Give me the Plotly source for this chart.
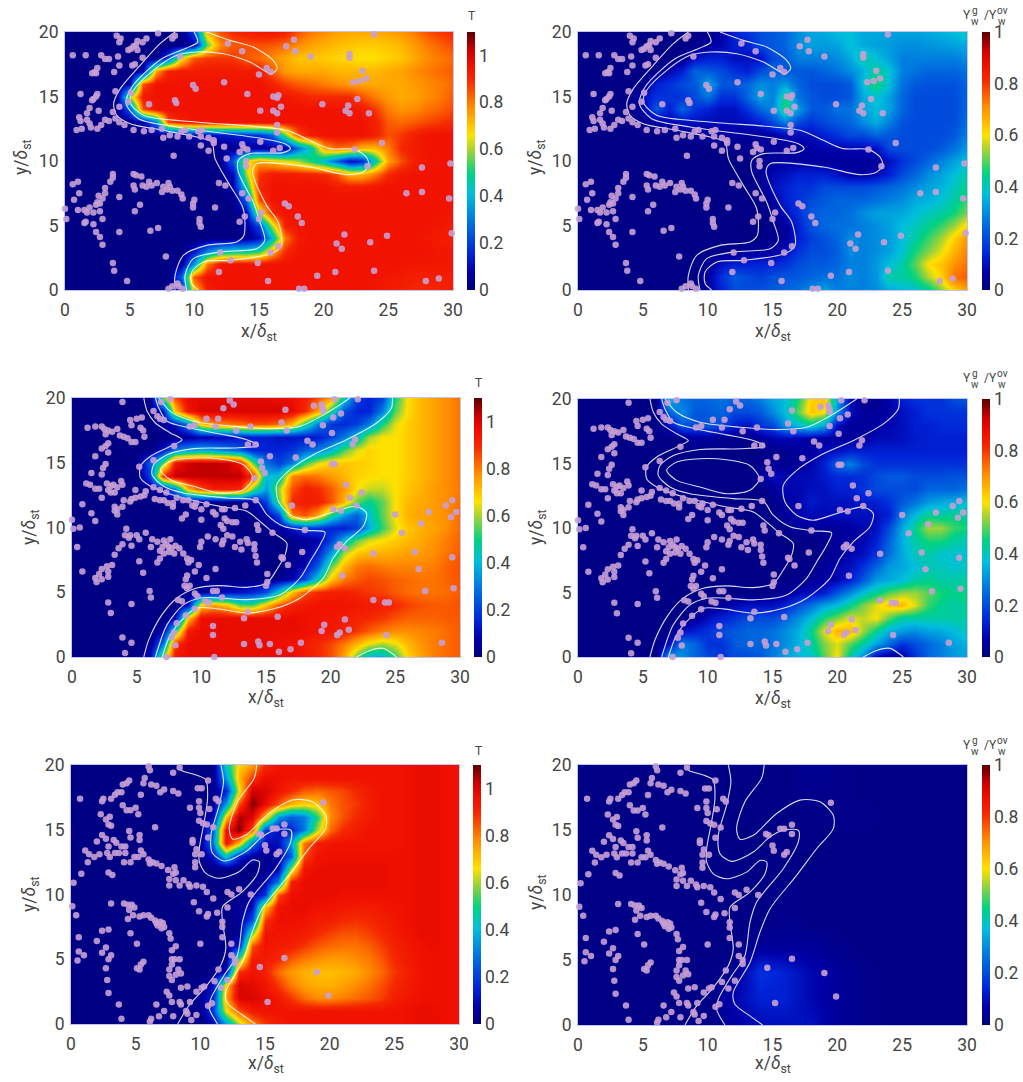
import plotly.graph_objects as go

W, H = 1023, 1082
FONT = "Roboto"
INK = "#444444"

grid_x_fine = list(range(0, 31))
grid_y_fine = list(range(0, 21))
grid_x_coarse = list(range(0, 31, 2))
grid_y_coarse = list(range(0, 21, 2))

# Temperature, in hundredths; rows run from y=0 to y=20
T_row1 = [
[2,2,2,2,2,2,2,2,2,8,70,92,95,95,95,95,95,95,95,95,95,95,95,95,94,93,92,90,90,91,92],
[2,2,2,2,2,2,2,2,2,25,85,95,95,95,95,95,95,95,95,95,95,95,95,95,95,94,93,92,92,92,93],
[2,2,2,2,2,2,2,2,2,5,35,80,94,95,95,95,95,95,95,95,95,95,95,95,95,95,95,94,94,94,94],
[2,2,2,2,2,2,2,2,2,2,12,30,42,45,45,50,72,90,95,95,95,95,95,95,95,95,95,95,95,94,94],
[2,2,2,2,2,2,2,2,2,2,2,2,2,2,4,10,40,80,93,95,95,95,95,95,95,95,95,95,94,93,92],
[2,2,2,2,2,2,2,2,2,2,2,2,2,2,5,20,60,92,95,95,95,95,95,95,95,95,95,95,95,94,93],
[2,2,2,2,2,2,2,2,2,2,2,2,2,2,8,60,90,95,95,95,95,95,95,95,95,95,95,95,95,95,94],
[2,2,2,2,2,2,2,2,2,2,2,2,2,3,25,85,95,95,95,95,95,95,95,95,95,95,95,95,95,95,95],
[2,2,2,2,2,2,2,2,2,2,2,2,2,8,45,90,95,95,95,95,95,93,93,93,94,95,95,95,95,95,95],
[2,2,2,2,2,2,2,2,2,2,2,2,3,10,60,88,93,93,92,92,90,85,72,72,80,90,94,95,95,95,95],
[2,2,2,2,2,2,2,2,2,2,2,2,4,25,65,75,70,65,60,50,40,25,10,15,45,75,85,92,94,95,95],
[2,2,2,2,2,2,2,2,2,2,2,2,3,4,5,6,6,6,28,45,75,82,80,72,72,80,90,93,95,95,95],
[2,2,2,2,2,2,2,2,3,6,8,10,12,14,16,18,25,55,85,93,95,95,95,95,92,85,88,92,95,95,95],
[2,2,2,2,2,3,8,30,85,92,95,95,95,95,95,95,95,95,95,95,95,95,95,95,92,84,82,84,86,88,90],
[2,2,2,2,3,25,85,95,95,95,95,95,95,95,95,95,95,95,95,95,95,95,95,93,88,80,77,78,81,83,86],
[2,2,2,2,4,60,94,95,95,95,95,95,95,95,95,95,95,94,92,90,90,90,90,85,80,76,74,75,78,80,84],
[2,2,2,2,2,10,85,95,95,95,95,95,95,95,95,95,92,87,84,82,80,78,76,75,74,74,74,76,78,80,82],
[2,2,2,2,2,2,8,75,92,93,93,93,93,93,93,93,84,76,74,74,74,72,72,72,72,74,75,78,80,82,84],
[2,2,2,2,2,2,2,3,20,65,85,88,88,88,84,82,78,74,70,70,69,68,67,66,66,68,70,74,78,80,82],
[2,2,2,2,2,2,2,2,2,3,8,55,78,84,85,85,84,82,78,75,73,71,70,69,69,70,72,76,80,83,86],
[2,2,2,2,2,2,2,2,2,2,20,72,85,90,92,94,94,92,85,80,78,75,74,74,74,75,77,80,85,88,90],
]
T_row2 = [
[2,2,2,2,2,2,10,60,93,97,97,97,97,97,97,97,97,97,93,90,85,75,55,40,38,52,68,75,80,82,84],
[2,2,2,2,2,2,3,30,90,97,97,97,97,97,97,97,96,95,93,90,86,80,72,64,60,64,72,77,80,82,84],
[2,2,2,2,2,2,2,8,50,94,97,97,97,97,97,97,97,97,96,95,94,92,88,84,80,78,78,79,80,82,84],
[2,2,2,2,2,2,2,2,8,70,96,97,97,97,97,97,97,97,96,95,94,93,91,90,88,85,83,83,83,84,84],
[2,2,2,2,2,2,2,2,2,10,70,75,70,55,55,70,85,92,94,95,95,95,94,93,92,90,87,85,84,84,85],
[2,2,2,2,2,2,2,2,2,3,6,8,10,12,15,22,45,70,85,90,92,92,90,88,87,84,82,81,81,82,84],
[2,2,2,2,2,2,2,2,2,2,2,2,2,2,2,2,4,8,22,45,70,80,84,86,85,83,82,81,81,83,85],
[2,2,2,2,2,2,2,2,2,2,2,2,2,2,2,2,2,4,10,25,55,72,80,82,80,79,79,79,80,83,85],
[2,2,2,2,2,2,2,2,2,2,2,2,2,2,2,2,2,3,6,15,35,60,70,72,73,74,75,76,78,81,84],
[2,2,2,2,2,2,2,2,2,2,2,2,2,2,2,2,2,3,5,8,20,40,55,63,66,69,72,74,77,80,83],
[2,2,2,2,2,2,2,2,2,2,2,2,2,2,2,3,6,12,20,18,15,14,20,38,52,64,70,73,75,78,82],
[2,2,2,2,2,2,2,2,2,2,2,2,2,2,3,8,22,80,85,75,50,35,25,42,55,66,73,75,76,78,82],
[2,2,2,2,2,2,2,2,2,2,2,2,2,2,5,20,55,90,93,92,85,72,55,48,55,66,72,74,76,78,82],
[2,2,2,2,2,2,4,8,30,72,85,92,92,90,55,35,60,85,92,90,84,76,66,62,62,66,70,73,76,78,80],
[2,2,2,2,2,2,20,90,103,103,103,103,103,103,90,40,42,78,82,80,76,72,68,67,66,66,69,72,75,78,81],
[2,2,2,2,2,3,25,55,95,102,103,103,102,95,55,28,20,30,52,64,70,70,69,68,66,66,69,72,75,78,81],
[2,2,2,2,2,2,2,12,30,35,38,35,30,25,15,15,15,18,25,30,40,54,64,68,66,66,69,72,75,78,81],
[2,2,2,2,2,2,2,2,3,5,8,8,10,12,14,14,12,12,12,14,20,30,42,60,66,66,69,72,75,78,81],
[2,2,2,2,2,2,2,6,12,30,70,78,80,82,85,85,82,72,50,30,18,16,20,30,50,64,69,72,75,78,81],
[2,2,2,2,2,2,2,12,70,95,100,100,100,100,100,100,100,98,90,75,50,22,15,15,30,55,67,72,75,78,81],
[2,2,2,2,2,2,2,55,85,97,98,98,98,98,98,98,97,96,92,85,75,45,20,15,20,50,67,72,75,78,81],
]
T_row3 = [
[2,2,2,2,2,2,2,2,2,2,2,8,35,60,78,88,93,95,95,95,95,95,95,95,95,95,96,97,97,96,95],
[2,2,2,2,2,2,2,2,2,2,3,20,65,85,93,95,95,95,95,95,95,95,95,95,95,95,96,97,97,96,95],
[2,2,2,2,2,2,2,2,2,2,5,15,75,100,100,97,94,88,82,78,78,80,82,84,87,92,94,96,96,96,95],
[2,2,2,2,2,2,2,2,2,2,3,10,70,100,98,95,88,80,75,73,73,75,78,81,85,90,93,95,96,96,95],
[2,2,2,2,2,2,2,2,2,2,2,3,10,90,95,92,82,76,73,71,71,72,74,78,82,88,92,95,96,96,95],
[2,2,2,2,2,2,2,2,2,2,2,2,3,55,93,93,90,84,80,78,76,76,78,80,84,90,93,95,96,96,95],
[2,2,2,2,2,2,2,2,2,2,2,2,3,15,85,95,93,92,88,84,82,81,81,83,87,91,94,96,97,96,95],
[2,2,2,2,2,2,2,2,2,2,2,2,2,4,55,95,95,94,93,90,87,85,85,87,90,93,95,97,97,96,95],
[2,2,2,2,2,2,2,2,2,2,2,2,2,5,22,88,96,96,95,93,92,90,89,90,92,94,96,97,97,96,95],
[2,2,2,2,2,2,2,2,2,2,2,2,3,5,10,70,95,97,97,96,95,94,93,93,94,95,96,97,97,96,95],
[2,2,2,2,2,2,2,2,2,2,2,2,2,3,6,18,85,96,97,97,97,96,96,96,96,96,96,97,97,96,95],
[2,2,2,2,2,2,2,2,2,2,2,2,2,2,3,8,30,92,97,97,97,97,97,97,97,96,96,97,97,96,95],
[2,2,2,2,2,2,2,2,2,2,2,2,2,2,2,4,8,60,95,97,97,97,97,97,97,96,96,97,97,96,95],
[2,2,2,2,2,2,2,2,2,2,3,12,45,15,6,4,6,25,85,95,96,96,96,96,96,96,96,97,97,96,95],
[2,2,2,2,2,2,2,2,2,2,4,30,95,72,30,10,10,35,80,92,95,95,95,95,95,95,96,97,97,96,95],
[2,2,2,2,2,2,2,2,2,2,3,25,95,108,85,20,12,15,30,60,82,90,93,95,95,95,96,97,97,96,95],
[2,2,2,2,2,2,2,2,2,2,3,10,70,105,100,72,35,25,30,50,78,85,90,93,95,95,96,97,97,96,95],
[2,2,2,2,2,2,2,2,2,2,2,4,35,85,108,98,85,72,68,70,80,85,88,92,95,95,96,97,97,96,95],
[2,2,2,2,2,2,2,2,2,2,2,4,15,65,102,100,95,90,84,82,84,86,90,93,95,95,96,97,97,96,95],
[2,2,2,2,2,2,2,2,2,2,2,3,35,72,88,97,96,95,95,95,95,95,95,95,95,95,96,97,97,96,95],
[2,2,2,2,2,2,2,2,2,2,2,2,45,68,75,90,95,95,95,95,95,95,95,95,95,95,96,97,97,96,95],
]

# Species ratio, in hundredths
Y_row1 = [
[2,2,2,2,2,2,2,2,2,2,6,13,20,20,21,22,24,26,30,33,28,28,28,30,34,36,38,42,52,62,68],
[2,2,2,2,2,2,2,2,2,2,6,16,22,20,18,21,22,22,24,26,26,30,28,31,42,42,46,55,62,74,76],
[2,2,2,2,2,2,2,2,2,2,5,10,13,13,14,14,16,20,22,22,24,28,28,32,37,42,50,60,64,70,74],
[2,2,2,2,2,2,2,2,2,2,2,2,3,5,5,6,10,16,20,20,23,30,28,30,33,38,46,52,58,66,72],
[2,2,2,2,2,2,2,2,2,2,2,2,2,2,2,3,5,13,18,21,24,30,28,30,32,37,42,48,54,62,70],
[2,2,2,2,2,2,2,2,2,2,2,2,2,2,2,3,5,13,21,24,26,26,28,30,33,37,40,44,48,54,62],
[2,2,2,2,2,2,2,2,2,2,2,2,2,2,2,3,10,16,22,24,24,26,30,33,33,34,37,40,42,46,52],
[2,2,2,2,2,2,2,2,2,2,2,2,2,2,2,6,13,16,20,22,24,24,24,26,28,30,34,35,38,42,48],
[2,2,2,2,2,2,2,2,2,2,2,2,2,2,3,10,13,16,16,20,20,20,20,22,24,26,30,33,35,40,44],
[2,2,2,2,2,2,2,2,2,2,2,2,2,2,5,8,10,13,13,13,10,6,6,8,13,20,24,30,33,37,42],
[2,2,2,2,2,2,2,2,2,2,2,2,2,2,3,5,6,6,6,5,5,5,5,6,10,16,20,24,28,33,37],
[2,2,2,2,2,2,2,2,2,2,2,2,3,3,5,5,5,5,6,8,8,8,9,10,20,20,20,20,22,26,32],
[2,2,2,2,2,2,2,2,3,5,6,6,6,5,5,6,9,9,10,13,16,20,20,24,22,20,20,20,20,22,28],
[2,2,2,2,2,3,6,8,10,10,9,9,9,10,13,20,28,20,16,20,22,24,30,35,28,21,20,20,20,20,26],
[2,2,2,2,2,6,22,13,24,16,13,10,10,16,24,30,46,32,22,22,26,26,33,37,33,24,20,20,20,20,24],
[2,2,2,2,3,10,16,16,16,20,26,16,16,24,33,28,46,26,22,20,20,22,34,38,33,24,20,20,20,20,24],
[2,2,2,2,2,3,13,16,20,22,34,22,22,24,30,28,32,24,20,20,20,22,38,46,37,26,22,21,21,21,24],
[2,2,2,2,2,2,3,8,13,24,22,20,16,13,20,24,22,22,22,24,26,30,35,44,38,28,26,24,24,24,26],
[2,2,2,2,2,2,2,2,3,10,13,13,10,10,10,20,22,28,28,28,30,34,42,37,33,28,28,28,28,28,30],
[2,2,2,2,2,2,2,2,2,3,6,8,13,13,20,22,24,30,33,32,33,38,34,33,32,30,30,31,32,33,34],
[2,2,2,2,2,2,2,2,2,2,3,6,13,16,20,22,24,30,33,34,37,37,34,34,33,33,33,34,35,37,40],
]
Y_row2 = [
[2,2,2,2,2,2,2,34,30,24,20,16,20,20,22,28,33,37,38,50,60,42,30,8,3,5,16,24,28,32,33],
[2,2,2,2,2,2,2,10,28,24,16,16,22,24,24,26,30,35,42,52,58,50,42,33,24,16,20,24,28,33,35],
[2,2,2,2,2,2,2,2,10,13,16,20,22,24,24,26,30,35,44,58,66,66,54,44,35,32,30,33,34,37,40],
[2,2,2,2,2,2,2,2,2,5,10,13,16,20,20,20,24,30,37,46,52,58,56,60,50,42,42,42,42,42,42],
[2,2,2,2,2,2,2,2,2,2,3,5,8,10,10,10,13,20,26,33,37,44,52,58,64,66,58,48,44,42,44],
[2,2,2,2,2,2,2,2,2,2,2,2,2,2,2,3,5,8,10,13,22,30,38,44,50,54,54,50,46,44,46],
[2,2,2,2,2,2,2,2,2,2,2,2,2,2,2,2,2,3,5,6,8,13,22,32,34,37,42,44,42,42,42],
[2,2,2,2,2,2,2,2,2,2,2,2,2,2,2,2,2,2,3,5,8,10,16,24,32,34,37,40,40,38,40],
[2,2,2,2,2,2,2,2,2,2,2,2,2,2,2,2,2,2,2,3,5,8,10,16,26,34,40,42,38,38,38],
[2,2,2,2,2,2,2,2,2,2,2,2,2,2,2,2,2,2,2,3,5,6,8,13,24,35,42,46,46,42,40],
[2,2,2,2,2,2,2,2,2,2,2,2,2,2,2,2,3,5,5,5,5,6,8,10,20,34,44,54,54,48,46],
[2,2,2,2,2,2,2,2,2,2,2,2,2,2,2,3,5,8,9,8,10,10,10,10,13,28,37,44,42,44,42],
[2,2,2,2,2,2,2,2,2,2,2,2,2,2,2,3,6,8,12,10,10,10,12,13,16,22,26,32,34,35,37],
[2,2,2,2,2,2,2,2,2,2,2,2,2,2,2,5,8,8,10,10,13,13,16,20,20,20,20,24,24,24,26],
[2,2,2,2,2,2,2,2,2,2,2,2,2,2,5,10,8,9,9,12,15,15,16,20,22,22,20,20,20,21,21],
[2,2,2,2,2,2,2,2,2,2,2,2,2,2,3,5,3,5,8,13,24,28,20,16,16,16,16,16,16,16,16],
[2,2,2,2,2,2,2,2,2,2,2,2,2,2,2,3,3,5,6,9,10,13,13,13,13,13,13,13,13,13,13],
[2,2,2,2,2,2,2,2,3,6,5,3,3,3,5,8,9,8,6,6,6,5,6,9,9,10,12,13,13,13,13],
[2,2,2,2,2,2,2,10,22,20,22,20,13,10,16,20,32,37,42,34,10,5,5,6,8,10,13,13,15,15,15],
[2,2,2,2,2,2,2,24,30,22,22,24,20,20,22,30,37,50,64,60,30,10,5,5,6,10,13,16,16,16,16],
[2,2,2,2,2,2,2,37,26,24,24,26,24,24,28,34,37,46,62,64,34,8,3,3,8,13,16,16,16,20,22],
]
Y_row3 = [
[2,2,2,2,2,2,6,9,10,10,5,3,2,2,2,2],
[2,2,2,2,2,2,8,13,13,8,5,3,2,2,2,2],
[2,2,2,2,2,2,4,16,13,8,5,3,2,2,2,2],
[2,2,2,2,2,2,2,5,5,5,3,2,2,2,2,2],
[2,2,2,2,2,2,2,2,3,2,2,2,2,2,2,2],
[2,2,2,2,2,2,2,2,3,2,2,2,2,2,2,2],
[2,2,2,2,2,2,2,2,2,2,2,2,2,2,2,2],
[2,2,2,2,2,2,2,2,2,2,2,2,2,2,2,2],
[2,2,2,2,2,2,2,2,2,2,3,3,2,2,2,2],
[2,2,2,2,2,2,2,2,2,3,3,2,2,2,2,2],
[2,2,2,2,2,2,2,2,2,4,3,2,2,2,2,2],
]

# Droplet positions, shared by the two panels of a row
points_row1 = [(4.0,19.7),(4.3,19.5),(4.2,19.2),(0.6,18.2),(1.6,18.2),(2.8,18.2),(3.1,17.9),(3.4,17.9),(4.1,18.1),(4.2,17.4),(3.8,16.9),
(4.9,18.6),(5.1,18.7),(5.3,18.9),(5.5,19.0),(5.6,19.3),(6.0,19.2),(6.3,19.5),(7.2,19.9),(8.3,19.5),(8.5,19.7),(5.6,18.6),(6.0,18.0),(5.2,17.4),(5.4,17.5),(8.9,18.1),
(2.1,16.8),(2.3,16.9),(2.5,17.2),(2.4,16.8),(1.2,15.2),(2.5,15.2),(2.4,15.0),(2.2,14.8),(2.1,14.7),(3.9,15.4),(5.1,15.3),(4.9,14.6),(4.2,14.2),(6.5,14.4),(8.5,14.7),(8.6,14.5),(9.9,15.9),(10.1,15.6),
(12.3,16.1),(14.1,15.2),(15.0,16.7),(15.6,17.2),(15.9,16.9),(12.6,19.1),(13.7,18.5),(17.7,19.4),(17.1,18.9),(17.8,18.5),(19.0,18.1),(22,18.3),(22,18),(23.9,19.8),(23,17),(23.3,16.4),(22.8,16.2),(22.3,16.1),
(16.1,15),(16.5,15.1),(16.4,14.9),(16.7,14.2),(16.1,13.9),(16.4,13.7),(15.1,13.9),(16.4,12.8),(16.4,12.2),(19.9,14.4),(21.9,14.3),(21.7,13.9),(22,13.7),(22.6,14.8),(23.5,13.7),(24.5,11.4),
(1.9,14.1),(1.7,13.7),(2.6,13.9),(1.1,13.4),(1.2,13.1),(1.7,13.2),(0.9,12.4),(1.3,12.5),(1.9,12.9),(2,12.6),(2.5,12.5),(2.8,12.8),(3.1,13.2),(3.4,13.1),(3.7,13.8),(3.9,13.3),(4.2,13),(4.6,12.8),(5.3,12.4),(6.1,12.3),(6.7,12.4),(7.5,12.5),(7.6,11.8),(8.1,12),(8.7,11.9),(9,12.3),(9.3,12.4),(9.6,11.9),(10.3,12.3),(10.6,12.4),(10.5,11.9),(11.1,11.8),(11.5,11.6),(11.5,11.4),(10.5,11.2),(11.1,10.8),(12.3,11.1),(12.5,10.2),(13.7,11.3),(13.8,11),(14.1,10.9),(13.5,10.7),(15.1,11.5),(16.1,10.8),(16.6,11),(22.4,10.9),(8.4,10.4),(14,10),(14,9.6),(23.4,9.6),
(3.7,9),(3.7,8.7),(3.5,8.4),(0.6,8.2),(1,8.4),(3.1,7.9),(3.1,7.5),(1.1,7.5),(0.7,7),(2.6,7.3),(2.9,7.1),(2.5,6.8),(2.7,6.7),(2.4,6.6),(4.2,7.2),(0,6.3),(1,6.2),(1.5,6.2),(1.9,6.4),(1.7,6),(2.2,6),(2.7,6.1),(0.1,5.5),(2.9,5.5),(1.5,5.2),(1.6,5.3),(2.2,5.1),(2.4,4.5),(4.2,4.5),(2.7,4.1),(2.9,3.5),(3.7,2.1),(3.8,1.5),(4.8,0.7),(6.6,4.6),(7.2,4.8),(7.8,2.6),
(5.4,6.1),(5.8,6.6),(5.3,8.1),(5.4,7.8),(5.3,9),(5.5,8.9),(5.9,8.8),(6.5,8.4),(6,8.1),(6.3,8),(6.7,8.1),(7.1,8.3),(7.6,8),(8,8.3),(8.1,8),(7.5,7.6),(7.9,7.8),(8.3,7.7),(8.7,7.7),(9,7.4),(9.1,7.1),(10,7),(9.9,6.7),(9.9,6.4),(11.6,6.4),(10.4,5.5),(10.4,5.2),(10.5,4.9),(11.9,8.3),(12.4,8.1),(13.7,7.5),(14.2,7.1),(13.9,5.7),(13.5,5.3),(15,5.5),(15.2,6),(17,6.7),(17.3,6.5),(18,5.7),(18.3,5.2),(16.5,3.4),(15.9,2.9),(12,2.9),(12.8,2.3),(14.9,2.1),(11.9,1.4),(15.7,0.7),(18.1,0.1),(18.5,0.1),(19.5,1.1),(20.9,1.4),(21.6,4.3),(21,3.6),(21.4,3.2),(23.6,3.7),(24.9,4.2),(23.9,1.5),(27.9,0.7),(28.9,0.9),(29.9,4.4),(29.7,7.1),(26.4,7.5),(27.6,7.6),(27.6,9.5),(29.8,9.8),
(8,0.1),(8.3,0.3),(8.7,0.5),(8.8,0.3),(9.1,0.1)]

points_row2 = [(3.9,19.7),(7.6,19.9),(6.9,19.7),(12.2,19.8),(12.5,19.5),(11.7,19.2),(16.5,19.1),(18.7,19.4),(19.3,19.5),(19.4,19.2),(19.4,19),(20.3,19.9),(22.1,19.9),(20.2,18.5),(20.8,18.8),(19.4,17.9),(20.1,17.3),(16.6,17.5),(16.2,18.1),(13.8,17.8),(12.7,17.5),(11.1,17.8),(11.3,18.4),(10.4,18.4),(9.5,17.9),(9.1,17.8),(6.3,19),(6.6,18.6),(6.8,18.4),(7.1,18.3),(5.4,18.5),(5,18.4),(4.5,18.3),(4.6,17.9),(5.3,17.7),(5.5,17.5),(5.6,17),(1.2,17.7),(1.8,17.8),(2.3,17.8),(2.5,17.6),(2.6,17.2),(2.8,17.5),(3.1,17.4),(3.5,17.6),(3.7,17.1),(4,17),(4.3,16.9),(4.6,16.6),(4.9,16.6),(2.8,16.5),(2.6,16.3),(2.3,16.1),(2.8,15.8),(1.8,15.5),(2.6,14.9),(2.4,14.6),(1.5,14.2),(2.3,14.1),
(7.9,16.3),(13.6,16.4),(14.2,16.4),(15.3,15.5),(17.3,15.4),(18.2,16.7),(18.6,16.4),(21.9,16.8),(21.7,16.4),(20.1,14.9),(20.3,14.9),(5.2,14.7),(6.3,15.2),(14.6,15.1),(14.7,14.6),(14.9,14.2),(14.1,13.8),(21.2,13.3),(22.4,12.7),(21.5,12.3),(17,11.7),(20.2,11.4),(20.8,11.3),(22,11.7),(25,11),(27.6,11.2),(28.9,11.7),(29.4,12.1),(29.7,11.2),(29.3,10.8),(27,10.3),(25.5,9.6),(23.3,8),(26.5,8.1),(26.8,6.8),(29.4,7.7),(27.3,5.1),(29.5,5.3),(20.9,6.3),(20.5,8.5),(20.7,8.7),(21.1,8.4),
(1.1,13.4),(1.4,13.3),(1.8,13),(2.1,13),(2.7,13.4),(3,13.2),(2.8,12.9),(3.2,13.3),(3.5,13.1),(3.8,13.6),(3.9,13.3),(3,12.7),(3.3,12.7),(2.3,12.3),(4,12.1),(4.6,12.2),(4.5,12),(4.9,12.9),(4.9,12.3),(5.3,12.4),(5.6,12.5),(5.7,12.8),(6.3,13.1),(6.8,12.9),(7.3,12.7),(6.4,12.2),(6.8,12.1),(7.1,12.1),(7.4,11.9),(7.8,11.9),(7.8,11.6),(8.1,12.3),(8.6,12.1),(9,12.1),(9.3,11.7),(9.5,11.6),(9.6,11.9),(10,11.4),(10.4,11.8),(10.9,11.2),(11.1,11),(11.6,11.4),(11.8,11.4),(12.6,11.5),(13.4,11.7),(14.2,12.1),
(0.8,11.8),(1.5,11.1),(1.8,10.5),(3.3,11.6),(3.5,11.4),(3.9,11.6),(3.3,11.3),(3.5,11),(0,10.6),(0.1,9.9),(0.6,10),(0.4,8.5),(0.8,6.6),
(8.8,11),(8.5,10.7),(10,10.6),(11.8,10.7),(12,10.5),(12.4,10.4),(12.7,10.4),(11.5,10.2),(11.7,9.9),(14.3,10.2),(14.4,9.8),(15.5,9.6),(18,9.8),
(4.2,9.9),(4.1,9.4),(4.4,9.2),(4.5,9.4),(5,9.4),(5.2,9.1),(5.7,9.6),(3.9,8.7),(3.6,8.4),(3.3,7.9),(4.6,8.6),(6.2,9.1),(6.6,8.9),(6.1,8.5),(7.1,9),(7.3,8.7),(7,8.5),(7.6,9.1),(7.5,8.5),(7.7,8.4),(8,8.6),(6.8,8.2),(7.1,8),(7.5,8.1),(7.9,8),(8.3,8.4),(8.6,8),(6.6,7.3),(6.8,7.6),(5.2,7.4),(5.5,6.5),
(8.9,7.6),(9.2,7.5),(9,7.3),(9.8,7.1),(9.5,6.6),(8.9,6.3),(8.8,6),(10.4,6.1),(11.1,6.8),(8.7,5.5),(8.9,5.3),(9.1,5.5),
(9.9,8.5),(10,8.9),(10.5,9.3),(11.1,9.1),(11.6,8.7),(11.7,9),(12,9.4),(12.4,9.3),(13,8.9),(13.5,9.1),(12.6,8.5),(13.1,8.3),(13.6,8.8),(14.1,8.7),(14.1,8.3),(14.2,7.8),(14.3,7.3),(16.2,7.7),(16.3,7.6),(16.7,7.1),(17.8,8.1),(15.1,6.4),(15.1,5.8),(15,5.5),
(2.3,6.8),(2.7,7),(3.1,7.1),(2.8,6.6),(2.1,6.4),(1.8,6.1),(1.9,5.8),(2.3,6),(2.8,6.2),
(6,5.1),(6.1,4.6),(2.8,4.2),(3,3.4),(4.6,4.1),(3.9,1.5),(4.6,1.1),(4.1,0.3),
(9.5,4.9),(9.7,4.7),(10.9,5.1),(11.2,5.1),(8.2,4.4),(8.5,4.3),(10.3,4.3),(10.6,4.2),(11.6,4.6),(13.6,3.5),(13.3,3),(15.9,3.1),(8.8,3.2),(9.5,3.7),(8.1,2.6),(7.9,1.9),(7.7,1.5),(8,0.9),(7.3,0),(10.9,2.4),(10.9,1.7),(11,0),(13.3,1),(14.4,1.2),(14.5,0.9),(15.3,1),(16,0.4),(16.9,0.6),(17.7,1.1),(19.3,2),(19.5,2.5),(20.5,1.7),(20.7,1.9),(21.1,2.9),(21.4,2.1),(23.3,4.4),(24.2,4.2),(24.5,4.2),(24.3,1.7),(28.6,1.1)]

points_row3 = [(6,19.9),(6.1,19.6),(8.4,19.8),(7.9,19.4),(5.7,19),(5.6,18.6),(2.4,17.2),(2.5,17.4),(3.1,17.4),(3.4,17.7),(3.6,17.9),(3.9,17.9),(4,18.5),(4.3,18.6),(4.5,18.8),(0.7,17.4),(5.4,17.7),(6.2,18.5),(6.6,18.4),(6.9,17.9),(7.2,18.1),(7.9,18),(8.3,17.8),(9.8,18.2),(10.1,18.2),(10.6,18.8),(9.2,16.7),(9.9,17.2),(9.9,16.7),(10,16.3),(10.7,16.6),(11.2,17.4),(11.4,17.2),(9.9,15.7),(10.2,15.5),(10.5,15.4),(11,15.2),(10.6,14.4),(9.4,14.2),(9.4,14),(9.7,13.5),(9.6,13.1),(10.1,13.1),(9.6,12.5),(9.6,12.1),
(4,16.9),(4.3,16.5),(4.6,16.5),(5,16.7),(5.2,16.2),(2.3,16.2),(2.7,15.8),(3,16),(2.9,15.4),(3.1,15.3),(6.5,15.2),(4.5,14.9),(4.6,14.4),(5.3,14.6),(5.3,14.2),(5.4,13.4),(5.6,13.1),(2.4,14.6),(2.7,14.3),(2,14.1),(3.3,14.2),(3.5,14),(3.9,13.7),(4.2,13.7),(4.2,13.2),(2.9,13.7),(2.8,13.2),(3,12.9),(3.4,13.2),(3.7,13.2),(1.1,13.4),(1.4,13.1),(1.8,12.9),(2.2,13.1),(1.3,12.5),(4.1,12.5),(4.6,12.5),(4.9,12.9),(5.2,12.9),
(6,12.7),(6.1,12.4),(6.3,12.5),(6.6,12.4),(7,12.2),(7.5,11.9),(8,12.1),(8.1,11.7),(7.9,11.6),(7.6,11.2),(7.6,10.7),(8.1,11.1),(8.7,11.1),(8.4,10.7),(9.1,10.8),(9.7,10.7),(9.2,10.6),(10.2,10.6),(10.5,10.2),(11,9.7),(12.1,10.2),(12.4,10),(13,10.4),(13.9,10),(0.8,11.6),(2.9,11.7),(3.2,11.5),(0.2,10.9),(0.1,9.1),(0.4,8.4),
(3.1,9.3),(4.1,9.3),(4.4,9.2),(4.7,9.2),(4.9,9),(4.5,8.8),(4.8,8.4),(4.4,8.1),(5.3,8.3),(5.6,8.4),(6,8.4),(6.2,8.2),(6.5,8),(6.6,7.8),(6.9,7.9),(7.1,7.8),(6.7,7.6),(7,7.4),(7.2,7.5),(7.6,7),(7.7,6.6),(8.1,6),(7.8,5.7),(9.5,9.4),(9.9,8.7),(10.6,8.5),(10.5,8.3),(11.3,8.6),(12.1,9),(11.7,7.9),(11.7,7.5),(11.7,6.7),(12.4,6.2),(10,6.2),(12.4,5.3),(12.7,5),(12.7,4.7),(16.5,5.1),(14.6,4.4),(19,4),(19.9,2.2),(15.2,1.7),(19.5,17.1),(14.5,14.7),(14.7,14.6),(15.6,15.1),(15.9,15.1),(16.5,15.4),(16.5,14.7),(15,13.8),(15.1,13.4),(15.9,13.1),(16.1,13.3),
(2.4,7.2),(2.9,7.3),(0.6,6.7),(2,6.4),(4.6,7),(5.1,6.2),(0.6,5.6),(2.7,5.9),(1,5.3),(0.5,4.9),(2.4,5.5),(3.1,5.3),(2.9,5),(2.7,4.3),(2.8,3.4),(2.9,2.4),(3.7,1.5),(3.9,0.4),
(5.6,4.8),(5.4,4.6),(5.1,4.3),(5.3,4.2),(7.8,5),(8,5),(8.4,5),(7.8,4.6),(7.6,4.2),(8.3,4.2),(8.5,3.9),(8.1,3.8),(7.6,3.7),(7.8,3.4),(8.5,2.8),(9,2.9),(7.4,2.5),(7.6,2.2),(7.8,1.7),(8.4,1.7),(8.5,1.5),(6.6,1.5),(7.2,1),(6.8,0.6),(6.2,0.4),(6.1,0.2),(7.9,0.6),(8.9,1),(9,0.8),(9.7,0.7),(9.3,0.3),(9.2,1.7),(9.7,2.5),(10.1,2.8),(10.3,2.9),(11.4,4.2),(11.1,3.3),(12.1,3.4),(11.6,2.8),(10.6,1.4),(10.9,1.6)]

# Iso-lines
lines_row1 = [
[(8.51,20),(7.35,19.1),(5.81,17.42),(4.27,15.61),(3.76,14.44),(4.01,13.54),(5.04,12.89),(7.61,12.38),(10.18,11.86),(11.34,11.47),(11.6,10.18),(12.75,8.11),(13.78,6.3),(13.83,4.24),(13.27,3.72),(10.95,3.46),(9.15,2.69),(8.51,1.14),(8.51,0)],
[(9.98,20),(10.26,19.22),(9.41,18.76),(7.48,17.93),(5.17,15.74),(4.73,14.44),(5.68,13.28),(8.64,12.64),(15.32,11.73),(17,11.34),(17.43,10.96),(16.87,10.65),(14.3,10.57),(13.4,10.05),(13.4,9.15),(14.55,6.82),(15.07,5.27),(15.45,3.85),(14.81,3.2),(11.98,2.95),(9.92,2.43),(9.28,1.14),(9.41,0)],
[(10.95,20),(12.75,19.35),(14.55,18.84),(16.09,17.8),(16.4,17.16),(15.97,16.77),(14.3,17.67),(12.24,18.32),(10.18,18.45),(8.64,18.19),(6.84,17.03),(5.3,15.48),(5.04,14.57),(6.07,13.54),(10.18,13.02),(17.12,12.38),(18.92,11.6),(20.46,10.96),(22.39,10.9),(23.29,10.31),(23.5,9.66),(23.04,9.15),(21.75,8.94),(18.92,9.53),(14.81,9.79),(14.5,9.15),(15.58,6.56),(16.48,5.27),(16.74,3.46),(15.97,2.82),(12.75,2.3),(10.7,2.17),(9.8,1.4),(9.8,0.5),(10.31,0)],
]
lines_row2 = [
[(5.55,20),(5.81,18.97),(6.45,18.07),(7.61,17.3),(8.51,16.78),(7.61,16.27),(6.07,15.5),(5.29,14.72),(5.29,13.82),(6.07,13.18),(7.35,12.66),(9.15,12.15),(11.46,11.63),(13.52,11.25),(14.68,10.35),(15.58,9.58),(16.6,8.8),(16.48,7.9),(15.83,6.74),(15.06,5.71),(13.52,5.38),(11.46,5.51),(9.66,5.33),(8.12,4.56),(6.96,3.27),(5.94,1.34),(5.55,0)],
[(6.45,20),(6.71,19.23),(7.35,18.2),(9.15,17.68),(11.46,17.22),(13.52,16.78),(14.42,16.32),(12.49,16.14),(9.41,16.09),(7.35,15.62),(6.32,14.85),(6.19,14.08),(7.09,13.18),(8.64,12.66),(11.98,12.28),(14.29,12.07),(15.06,10.99),(16.35,10.09),(18.15,9.78),(19.56,9.63),(19.18,8.67),(18.41,7.39),(17.63,6.1),(16.09,4.81),(13.52,4.43),(11.46,4.56),(9.92,4.56),(8.64,4.04),(7.35,2.5),(6.45,0)],
[(6.84,14.47),(7.61,15.11),(9.41,15.37),(11.46,15.29),(13.26,14.85),(13.98,13.82),(13.26,12.92),(11.46,12.66),(9.41,13.18),(7.61,13.69),(6.84,14.47)],
[(6.71,20),(7.61,18.97),(9.41,18.2),(12.49,17.81),(15.58,17.63),(17.63,17.81),(19.69,18.84),(21.49,20)],
[(24.78,20),(24.7,19.23),(23.55,18.07),(21.23,16.78),(18.66,15.62),(16.86,14.47),(15.83,13.31),(15.96,12.02),(16.86,10.99),(18.15,10.6),(19.95,11.12),(22,11.63),(22.77,11.12),(22.52,10.09),(21.23,8.93),(20.2,7.64),(19.43,6.1),(17.63,4.56),(15.83,3.78),(13.52,3.4),(11.21,3.73),(9.66,3.78),(8.64,3.01),(7.61,1.72),(6.97,0)],
[(22,0),(23.03,0.51),(24.06,0.67),(25.09,0)],
]
lines_row3 = [
[(8.38,20),(8.5,19.61),(9.66,19.23),(10.43,18.84),(10.56,17.43),(10.3,15.62),(9.92,13.56),(9.92,12.54),(10.43,11.63),(11.46,11.25),(13,11.76),(14.03,12.66),(14.55,12.54),(14.42,11.63),(13.26,10.22),(11.72,9.06),(11.72,7.9),(11.97,5.84),(11.59,4.56),(10.43,2.88),(9.15,1.47),(8.25,0)],
[(11.59,20),(11.79,18.71),(11.46,16.91),(10.82,14.59),(10.95,13.18),(11.85,12.59),(13.52,13.31),(14.8,14.47),(15.83,14.98),(16.99,14.98),(16.99,14.08),(15.83,12.02),(13.77,9.45),(13.26,7.9),(12.87,5.33),(11.85,3.78),(10.82,1.98),(10.69,1.21),(11.33,0)],
[(14.36,20),(14.16,18.97),(12.87,17.17),(12.23,15.11),(12.49,14.29),(13.52,14.59),(15.32,16.27),(17.12,17.3),(18.66,17.17),(19.69,16.14),(19.69,15.11),(18.4,13.56),(16.86,11.51),(14.8,8.93),(14.03,7.13),(13.26,4.81),(11.97,2.5),(12.1,1.6),(13.26,0.7),(14.24,0)],
]

x_ticks = [0, 5, 10, 15, 20, 25, 30]
y_ticks = [0, 5, 10, 15, 20]
cbar_ticks = [0, 0.2, 0.4, 0.6, 0.8, 1]
cbar_labels = ["0", "0.2", "0.4", "0.6", "0.8", "1"]

# Colour ramp as it appears on the reference's colour bar
RAMP = [[0, "#000078"], [0.07, "#0000A8"], [0.14, "#0024D8"], [0.27, "#0078E0"], [0.37, "#00BEDC"],
        [0.45, "#00D282"], [0.535, "#96D23C"], [0.6, "#FFE100"], [0.71, "#FF8C00"], [0.815, "#F52800"],
        [0.87, "#F01000"], [0.93, "#CC0000"], [1, "#5A0000"]]


def px(x):
    return x / W


def py(y):
    return 1 - y / H


def hundredths(rows):
    return [[v / 100 for v in r] for r in rows]


for rows, n in [(T_row1, 31), (T_row2, 31), (T_row3, 31), (Y_row1, 31), (Y_row2, 31), (Y_row3, 16)]:
    for r in rows:
        assert len(r) == n, (n, len(r), r)

panels = [
    dict(box=(65, 453, 32, 290), cb=467, xt=(259, 332), yt=(23, 158), z=T_row1, pts=points_row1, lines=lines_row1, kind="T", ty=16, tx=471, fine=True),
    dict(box=(578, 967, 32, 290), cb=982, xt=(773, 332), yt=(537, 158), z=Y_row1, pts=points_row1, lines=lines_row1, kind="Y", ty=15, fine=True),
    dict(box=(72, 460, 398, 657), cb=474, xt=(266, 698), yt=(30, 528), z=T_row2, pts=points_row2, lines=lines_row2, kind="T", ty=383, tx=478, fine=True),
    dict(box=(578, 967, 399, 657), cb=982, xt=(773, 699), yt=(537, 528), z=Y_row2, pts=points_row2, lines=lines_row2, kind="Y", ty=378, fine=True),
    dict(box=(71, 459, 765, 1024), cb=473, xt=(266, 1064), yt=(30, 895), z=T_row3, pts=points_row3, lines=lines_row3, kind="T", ty=751, tx=478, fine=True),
    dict(box=(578, 967, 765, 1025), cb=982, xt=(773, 1064), yt=(537, 893), z=Y_row3, pts=points_row3, lines=lines_row3, kind="Y", ty=745, fine=False),
]

fig = go.Figure()
annotations = []
layout_axes = {}
TICKFONT = dict(family=FONT, size=17.5, color=INK)
EDGE = "rgba(170,170,235,0.7)"


def note(text, x, y, size=17.5, angle=0):
    annotations.append(dict(text=text, x=px(x), y=py(y), xref="paper", yref="paper", showarrow=False,
                            xanchor="center", yanchor="middle", textangle=angle,
                            font=dict(family=FONT, size=size, color=INK)))


for i, p in enumerate(panels, start=1):
    left, right, top, bottom = p["box"]
    suffix = "" if i == 1 else str(i)
    is_t = p["kind"] == "T"
    gx, gy = (grid_x_fine, grid_y_fine) if p["fine"] else (grid_x_coarse, grid_y_coarse)
    zmax = 1.1 if is_t else 1.0
    fig.add_trace(go.Heatmap(
        x=gx, y=gy, z=hundredths(p["z"]), zmin=0, zmax=zmax, colorscale=RAMP, zsmooth="best",
        xaxis="x" + suffix, yaxis="y" + suffix,
        hoverinfo="skip",
        colorbar=dict(x=px(p["cb"]), xanchor="left", xpad=0, y=py(top), yanchor="top", ypad=0,
                      len=(bottom - top) / H, lenmode="fraction", thickness=8, thicknessmode="pixels",
                      outlinewidth=0, tickvals=cbar_ticks, ticktext=cbar_labels, ticks="",
                      tickfont=TICKFONT),
    ))
    for line in p["lines"]:
        fig.add_trace(go.Scatter(
            x=[c[0] for c in line], y=[c[1] for c in line], mode="lines",
            line=dict(color="rgba(255,255,255,0.85)", width=1.1, shape="spline", smoothing=0.8),
            xaxis="x" + suffix, yaxis="y" + suffix, showlegend=False, hoverinfo="skip",
        ))
    fig.add_trace(go.Scatter(
        x=[c[0] for c in p["pts"]], y=[c[1] for c in p["pts"]], mode="markers",
        marker=dict(size=6.5, color="rgba(200,160,212,0.9)", line=dict(width=0)),
        xaxis="x" + suffix, yaxis="y" + suffix, showlegend=False, hoverinfo="skip", cliponaxis=False,
    ))
    layout_axes["xaxis" + suffix] = dict(
        domain=[px(left), px(right)], range=[0, 30], anchor="y" + suffix, tickvals=x_ticks,
        ticks="outside", ticklen=4, tickcolor="rgba(0,0,0,0)",
        showgrid=False, zeroline=False, showline=True, linecolor=EDGE, linewidth=1, mirror=True, tickfont=TICKFONT)
    layout_axes["yaxis" + suffix] = dict(
        domain=[py(bottom), py(top)], range=[0, 20], anchor="x" + suffix, tickvals=y_ticks,
        ticks="outside", ticklen=2, tickcolor="rgba(0,0,0,0)",
        showgrid=False, zeroline=False, showline=True, linecolor=EDGE, linewidth=1, mirror=True, tickfont=TICKFONT)
    note("x/<i>δ</i><sub>st</sub>", p["xt"][0], p["xt"][1])
    note("y/<i>δ</i><sub>st</sub>", p["yt"][0], p["yt"][1], angle=-90)
    if is_t:
        note("T", p["tx"], p["ty"], size=12)
    else:
        yc = p["ty"]
        note("Y", 967, yc, size=12)
        note("g", 975, yc - 5, size=10)
        note("w", 975, yc + 6, size=10)
        note("/", 986, yc, size=12)
        note("Y", 993, yc, size=12)
        note("ov", 1002, yc - 5, size=10)
        note("w", 1002, yc + 6, size=10)

fig.update_layout(width=W, height=H, margin=dict(l=0, r=0, t=0, b=0, autoexpand=False), paper_bgcolor="white",
                  plot_bgcolor="white", showlegend=False, annotations=annotations, **layout_axes)

fig.write_html("out.html", config={"displayModeBar": False}, post_script="document.body.style.margin='0';")
